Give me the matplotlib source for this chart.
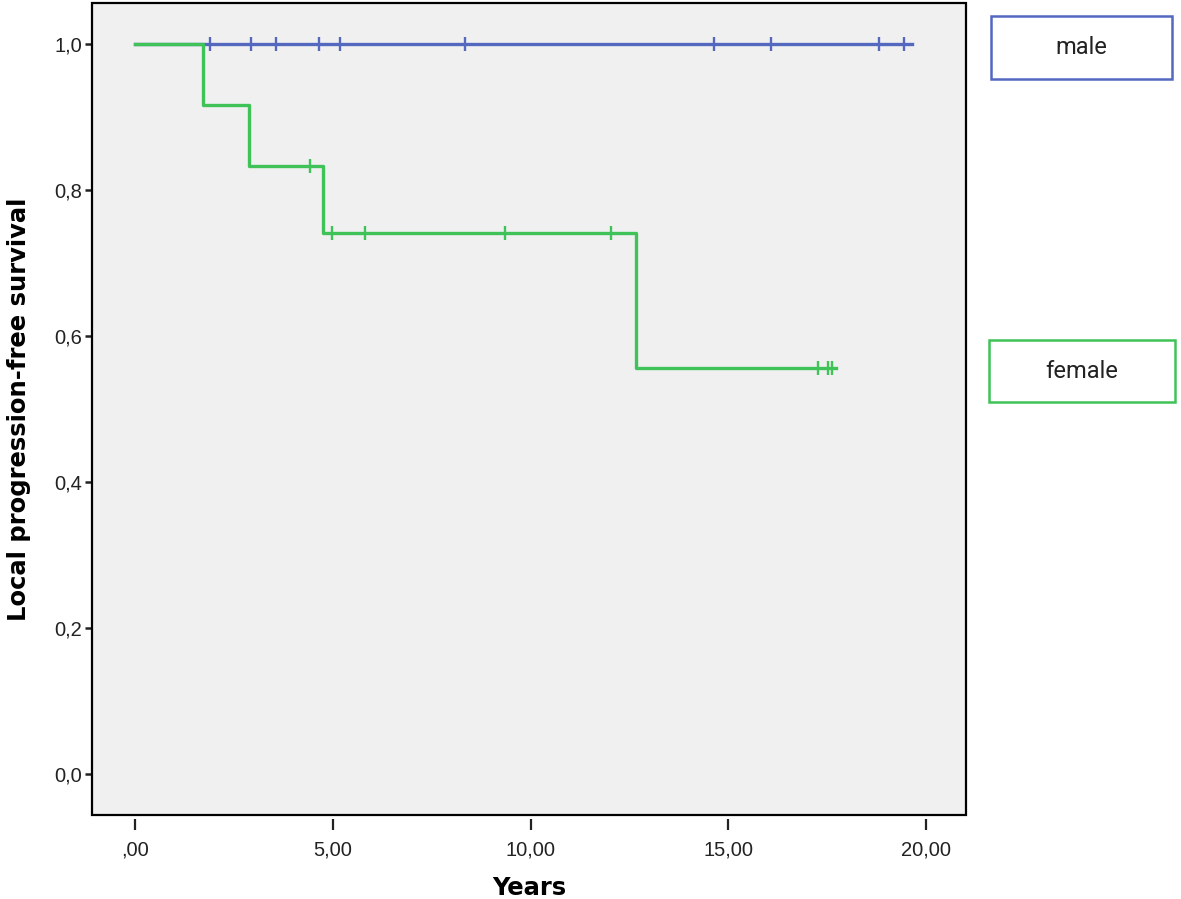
import matplotlib
matplotlib.use("Agg")
import matplotlib.pyplot as plt
from matplotlib.patches import Rectangle

# step curves (time, survival) and censor times
male_t = [0.0, 19.64]
male_s = [1.0, 1.0]
male_cens = [1.90, 2.93, 3.57, 4.66, 5.18, 8.34, 14.65, 16.08, 18.82, 19.45]

female_t = [0.0, 1.73, 2.87, 4.75, 12.67, 17.72]
female_s = [1.0, 0.9167, 0.8333, 0.7407, 0.5556, 0.5556]
female_cens = [4.42, 4.97, 5.82, 9.36, 12.04, 17.28, 17.52, 17.62]

groups = ["male", "female"]
colors = ["#5468c0", "#3fc257"]

xticks = [0, 5, 10, 15, 20]
xticklabels = [",00", "5,00", "10,00", "15,00", "20,00"]
yticks = [0.0, 0.2, 0.4, 0.6, 0.8, 1.0]
yticklabels = ["0,0", "0,2", "0,4", "0,6", "0,8", "1,0"]

plt.rcParams['font.family'] = ['Liberation Sans', 'DejaVu Sans']

W, H = 1181, 899
fig = plt.figure(figsize=(W / 100, H / 100), dpi=100)
ax = fig.add_axes([92 / W, 1 - 815 / H, (966 - 92) / W, (815 - 3) / H])
ax.set_facecolor("#f0f0f0")

def surv_at(t, ts, ss):
    v = ss[0]
    for a, b in zip(ts, ss):
        if a <= t:
            v = b
    return v

curves = [(male_t, male_s, male_cens), (female_t, female_s, female_cens)]
for (ts, ss, cens), c in zip(curves, colors):
    ax.step(ts, ss, where="post", color=c, lw=2.4, zorder=3)
    ax.plot(cens, [surv_at(t, ts, ss) for t in cens], ls="none", marker="|",
            ms=10, mew=1.7, color=c, zorder=4)

ax.set_xlim(-1.087, 21.01)
ax.set_ylim(-0.056, 1.056)
ax.set_xticks(xticks)
ax.set_xticklabels(xticklabels)
ax.set_yticks(yticks)
ax.set_yticklabels(yticklabels)

for s in ax.spines.values():
    s.set_visible(False)
ax.spines['bottom'].set_position(('outward', 3))
ax.add_patch(Rectangle((0, 0), 1, 1, transform=ax.transAxes, fill=False,
                       ec="black", lw=1.6, zorder=5, clip_on=False))

ax.tick_params(axis="x", length=8, width=1.6, pad=7, labelsize=14.5, colors="#222222")
ax.tick_params(axis="y", length=5, width=1.8, pad=2, labelsize=14.5, colors="#222222")

ax.set_xlabel("Years", fontsize=17.5, fontweight="bold", labelpad=12,
              family=['DejaVu Sans'])
ax.set_ylabel("Local progression-free survival", fontsize=17.5, fontweight="bold",
              labelpad=17, family=['DejaVu Sans'])

# legend boxes
boxes = [(991, 16, 1172, 79), (989, 340, 1175, 402)]
for name, c, (x0, y0, x1, y1) in zip(groups, colors, boxes):
    fig.patches.append(Rectangle((x0 / W, 1 - y1 / H), (x1 - x0) / W, (y1 - y0) / H,
                                 transform=fig.transFigure, fill=False, ec=c, lw=1.8))
    fig.text((x0 + x1) / 2 / W, 1 - (y0 + y1) / 2 / H, name, ha="center", va="center",
             fontsize=17, family=['Roboto', 'DejaVu Sans'], color="#222222")

fig.savefig("out.png", dpi=100)
